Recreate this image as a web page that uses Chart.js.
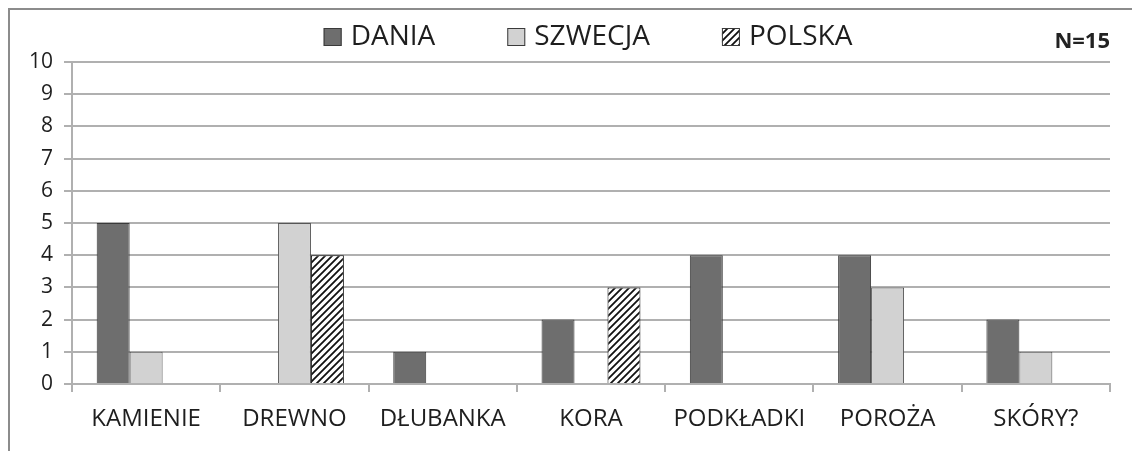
<!DOCTYPE html>
<html>
<head>
<meta charset="utf-8">
<script src="https://cdn.jsdelivr.net/npm/chart.js@4/dist/chart.umd.min.js"></script>
<style>
  html, body { margin: 0; padding: 0; background: #fff; }
  #wrap { position: relative; width: 1132px; height: 451px; overflow: hidden; }
  #frame { position: absolute; left: 8px; top: 8px; width: 1150px; height: 470px; border: 2px solid #8c8c8c; }
  #nlabel { position: absolute; right: 22px; top: 24px; font: bold 22px "Open Sans", sans-serif; color: #222; }
  canvas { position: absolute; left: 0; top: 0; }
</style>
</head>
<body>
<div id="wrap">
  <div id="frame"></div>
  <canvas id="chart" width="1132" height="451"></canvas>
  <div id="nlabel">N=15</div>
</div>
<script>
// dane
const categories = ['KAMIENIE', 'DREWNO', 'DŁUBANKA', 'KORA', 'PODKŁADKI', 'POROŻA', 'SKÓRY?'];
const dania   = [5, 0, 1, 2, 4, 4, 2];
const szwecja = [1, 5, 0, 0, 0, 3, 1];
const polska  = [0, 4, 0, 3, 0, 0, 0];
const yTicks  = [0, 1, 2, 3, 4, 5, 6, 7, 8, 9, 10];

const FONT = '"Open Sans", sans-serif';
const TXT = '#1e1e1e';
const GRID = '#b0b0b0';

// ── kreskowanie ─────────────────────────────────────────────
function hatch() {
  const c = document.createElement('canvas');
  c.width = c.height = 7;
  const g = c.getContext('2d');
  g.fillStyle = '#fff';
  g.fillRect(0, 0, 7, 7);
  g.strokeStyle = '#111';
  g.lineWidth = 1.8;
  g.beginPath();
  g.moveTo(-1, 8); g.lineTo(8, -1);
  g.moveTo(-1, 1); g.lineTo(1, -1);
  g.moveTo(6, 8);  g.lineTo(8, 6);
  g.stroke();
  return g.createPattern(c, 'repeat');
}
const hatchFill = hatch();

// ── legenda ─────────────────────────────────────────────────
const legendPlugin = {
  id: 'customLegend',
  afterDraw(chart) {
    const ctx = chart.ctx;
    const box = 18, gapText = 9, gap = 72, cy = 37, cx = 588;
    ctx.save();
    ctx.font = '28px ' + FONT;
    const items = chart.data.datasets.map(d => ({ d, w: ctx.measureText(d.label).width }));
    const total = items.reduce((s, it) => s + box + gapText + it.w, 0) + gap * (items.length - 1);
    let x = cx - total / 2;
    items.forEach(it => {
      ctx.fillStyle = it.d.backgroundColor;
      ctx.fillRect(x, cy - box / 2, box, box);
      ctx.strokeStyle = '#3a3a3a';
      ctx.lineWidth = 1;
      ctx.strokeRect(x + 0.5, cy - box / 2 + 0.5, box - 1, box - 1);
      ctx.fillStyle = TXT;
      ctx.textBaseline = 'middle';
      ctx.fillText(it.d.label, x + box + gapText, cy);
      x += box + gapText + it.w + gap;
    });
    ctx.restore();
  }
};

const bw = c => (c.raw ? 1 : 0);

new Chart(document.getElementById('chart'), {
  type: 'bar',
  data: {
    labels: categories,
    datasets: [
      { label: 'DANIA',   data: dania,   backgroundColor: '#6e6e6e', borderColor: '#3a3a3a', borderWidth: bw },
      { label: 'SZWECJA', data: szwecja, backgroundColor: '#d2d2d2', borderColor: '#555',    borderWidth: bw },
      { label: 'POLSKA',  data: polska,  backgroundColor: hatchFill, borderColor: '#111',    borderWidth: bw }
    ]
  },
  plugins: [legendPlugin],
  options: {
    responsive: false,
    animation: false,
    layout: { padding: { top: 62, right: 22, bottom: 0, left: 0 } },
    datasets: { bar: { barPercentage: 1, categoryPercentage: 0.667, borderSkipped: 'start' } },
    plugins: { legend: { display: false }, tooltip: { enabled: false } },
    scales: {
      x: {
        afterFit: s => { s.height = 67; },
        grid: { offset: true, drawOnChartArea: false, drawTicks: true, tickLength: 8, color: GRID, lineWidth: 2 },
        border: { color: GRID, width: 2 },
        ticks: { color: TXT, font: { family: FONT, size: 24 }, padding: 13, maxRotation: 0, autoSkip: false }
      },
      y: {
        min: 0, max: 10,
        afterFit: s => { s.width = 72; },
        afterBuildTicks: s => { s.ticks = yTicks.map(v => ({ value: v })); },
        grid: { color: GRID, lineWidth: 2, tickLength: 8 },
        border: { color: GRID, width: 2 },
        ticks: { color: TXT, font: { family: FONT, size: 21 }, padding: 11 }
      }
    }
  }
});
</script>
</body>
</html>
